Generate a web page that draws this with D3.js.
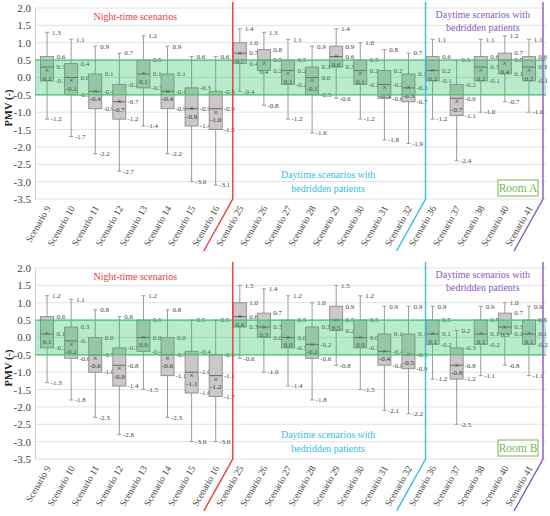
<!DOCTYPE html>
<html lang="en">
<head>
    <meta charset="UTF-8">
    <title>PMV box plots</title>
    <script src="https://cdn.jsdelivr.net/npm/d3@7"></script>
    <style>
        body { margin: 0; background: #fff; }
        svg text { font-family: "Liberation Serif", "DejaVu Serif", serif; }
    </style>
</head>
<body>
<div class="chart"></div>

<script type="text/javascript">
    var categories = ['9', '10', '11', '12', '13', '14', '15', '16',
        '25', '26', '27', '28', '29', '30', '31', '32',
        '36', '37', '38', '40', '41'];
    var yTicks = [2.0, 1.5, 1.0, 0.5, 0.0, -0.5, -1.0, -1.5, -2.0, -2.5, -3.0, -3.5];

    // Room A
    var roomA_max    = [1.3, 1.1, 0.9, 0.7, 1.2, 0.9, 0.6, 0.6, 1.4, 1.3, 1.1, 0.9, 1.4, 1.0, 0.8, 0.7, 1.1, 0.5, 1.1, 1.2, 1.1];
    var roomA_q3     = [0.6, 0.4, 0.1, -0.2, 0.5, 0.1, -0.3, -0.4, 1.0, 0.8, 0.5, 0.3, 0.9, 0.5, 0.2, 0.1, 0.6, -0.2, 0.6, 0.7, 0.6];
    var roomA_median = [0.3, 0.0, -0.4, -0.7, 0.1, -0.4, -0.9, -0.9, 0.7, 0.5, 0.2, 0.0, 0.6, 0.2, -0.2, -0.3, 0.2, -0.6, 0.3, 0.5, 0.3];
    var roomA_q1     = [-0.1, -0.5, -0.9, -1.2, -0.3, -0.9, -1.4, -1.5, 0.4, 0.2, -0.2, -0.5, 0.3, -0.2, -0.6, -0.7, -0.1, -1.1, -0.1, 0.1, -0.1];
    var roomA_min    = [-1.2, -1.7, -2.2, -2.7, -1.4, -2.2, -3.0, -3.1, -0.4, -0.8, -1.2, -1.6, -0.6, -1.2, -1.8, -1.9, -1.2, -2.4, -1.0, -0.7, -1.0];
    var roomA_mean   = [0.2, -0.1, -0.4, -0.7, 0.1, -0.4, -0.9, -1.0, 0.7, 0.4, 0.1, -0.1, 0.6, 0.1, -0.3, -0.3, 0.2, -0.7, 0.2, 0.4, 0.2];

    // Room B
    var roomB_max    = [1.2, 1.1, 0.8, 0.6, 1.2, 0.8, 0.5, 0.5, 1.5, 1.4, 1.2, 1.0, 1.5, 1.2, 0.9, 0.9, 0.9, 0.2, 0.9, 1.0, 0.9];
    var roomB_q3     = [0.6, 0.3, 0.0, -0.3, 0.5, 0.0, -0.4, -0.5, 1.0, 0.7, 0.5, 0.3, 0.9, 0.5, 0.1, 0.1, 0.5, -0.3, 0.5, 0.7, 0.5];
    var roomB_median = [0.1, -0.1, -0.5, -0.8, 0.0, -0.5, -1.0, -1.1, 0.6, 0.3, 0.0, -0.2, 0.5, 0.0, -0.4, -0.5, 0.1, -0.8, 0.1, 0.3, 0.1];
    var roomB_q1     = [-0.3, -0.6, -1.0, -1.4, -0.4, -1.1, -1.6, -1.7, 0.3, 0.0, -0.3, -0.6, 0.2, -0.3, -0.8, -0.9, -0.2, -1.2, -0.2, 0.1, -0.2];
    var roomB_min    = [-1.3, -1.8, -2.3, -2.8, -1.5, -2.3, -3.0, -3.0, -0.6, -1.0, -1.4, -1.8, -0.8, -1.5, -2.1, -2.2, -1.2, -2.5, -1.1, -0.8, -1.1];
    var roomB_mean   = [0.1, -0.2, -0.6, -0.9, 0.0, -0.6, -1.1, -1.2, 0.6, 0.3, 0.0, -0.2, 0.5, 0.0, -0.4, -0.5, 0.1, -0.8, 0.1, 0.3, 0.1];

    var w = 550;
    var h = 516;
    var serif = '"Liberation Serif", "DejaVu Serif", serif';
    var red = '#ee3b3f', cyan = '#35bde6', purple = '#8a58c0', green = '#79b450';

    var svg = d3.select('.chart').append('svg')
            .attr('width', w)
            .attr('height', h)
            .attr('font-family', serif);

    var x = d3.scaleBand().domain(categories).range([35, 541]);
    var y = d3.scaleLinear().domain([-3.5, 2.0]).range([199, 8]);
    var boxW = x.bandwidth() * 0.54;

    function fmt(v) { return v.toFixed(1); }

    function drawPanel(offsetY, room, mx, q3, med, q1, mn, mean) {
        var g = svg.append('g').attr('transform', 'translate(0,' + offsetY + ')');
        var rows = categories.map(function(c, i) {
            return {cat: c, max: mx[i], q3: q3[i], med: med[i], q1: q1[i], min: mn[i], mean: mean[i]};
        });

        // gridlines
        g.selectAll('line.grid').data(yTicks).enter().append('line')
                .attr('x1', 35).attr('x2', 546)
                .attr('y1', function(d) { return y(d); })
                .attr('y2', function(d) { return y(d); })
                .attr('stroke', '#e2e2e2').attr('stroke-width', 1);

        // y axis
        var yAxis = g.append('g').attr('transform', 'translate(35,0)')
                .call(d3.axisLeft(y).tickValues(yTicks).tickSize(0).tickPadding(4).tickFormat(fmt))
                .attr('font-family', serif).attr('font-size', 11);
        yAxis.select('.domain').attr('stroke', '#d0d0d0');
        yAxis.selectAll('text').attr('fill', '#444');

        g.append('text')
                .attr('transform', 'translate(12,' + 108 + ') rotate(-90)')
                .attr('text-anchor', 'middle')
                .attr('font-size', 10.5).attr('font-weight', 'bold').attr('fill', '#222')
                .text('PMV (-)');

        // x labels
        var xAxis = g.append('g').attr('transform', 'translate(0,' + y(-3.5) + ')')
                .call(d3.axisBottom(x).tickSize(0).tickFormat(function(d) { return 'Scenario ' + d; }))
                .attr('font-family', serif).attr('font-size', 9.5);
        xAxis.select('.domain').remove();
        xAxis.selectAll('text')
                .attr('y', 0).attr('dy', 0)
                .attr('transform', 'translate(4,9) rotate(-60)')
                .style('text-anchor', 'end')
                .attr('fill', '#444');

        var boxes = g.selectAll('g.box').data(rows).enter().append('g')
                .attr('transform', function(d) { return 'translate(' + (x(d.cat) + x.bandwidth() / 2) + ',0)'; });

        // whiskers
        boxes.append('line')
                .attr('x1', 0).attr('x2', 0)
                .attr('y1', function(d) { return y(d.max); })
                .attr('y2', function(d) { return y(d.min); })
                .attr('stroke', '#9a9a9a').attr('stroke-width', 1);
        boxes.append('line')
                .attr('x1', -2).attr('x2', 2)
                .attr('y1', function(d) { return y(d.max); })
                .attr('y2', function(d) { return y(d.max); })
                .attr('stroke', '#9a9a9a');
        boxes.append('line')
                .attr('x1', -2).attr('x2', 2)
                .attr('y1', function(d) { return y(d.min); })
                .attr('y2', function(d) { return y(d.min); })
                .attr('stroke', '#9a9a9a');

        // box
        boxes.append('rect')
                .attr('x', -boxW / 2)
                .attr('width', boxW)
                .attr('y', function(d) { return y(d.q3); })
                .attr('height', function(d) { return y(d.q1) - y(d.q3); })
                .attr('fill', '#cdc8c8')
                .attr('stroke', '#8a8a8a').attr('stroke-width', 0.9);
        boxes.append('line')
                .attr('x1', -boxW / 2).attr('x2', boxW / 2)
                .attr('y1', function(d) { return y(d.med); })
                .attr('y2', function(d) { return y(d.med); })
                .attr('stroke', '#666').attr('stroke-width', 1);

        // comfort band
        g.append('rect')
                .attr('x', 35).attr('width', 511)
                .attr('y', y(0.5)).attr('height', y(-0.5) - y(0.5))
                .attr('fill', 'rgb(40,190,100)').attr('fill-opacity', 0.33);
        g.selectAll('line.band').data([0.5, -0.5]).enter().append('line')
                .attr('x1', 35).attr('x2', 546)
                .attr('y1', function(d) { return y(d); })
                .attr('y2', function(d) { return y(d); })
                .attr('stroke', '#48c06a').attr('stroke-width', 1.2);

        // mean marker
        boxes.append('text')
                .attr('y', function(d) { return y(d.mean) + 2.5; })
                .attr('text-anchor', 'middle')
                .attr('font-size', 8).attr('fill', '#333')
                .text('×');
        boxes.append('text')
                .attr('y', function(d) { return y(d.mean) + 10; })
                .attr('text-anchor', 'middle')
                .attr('font-size', 7).attr('fill', '#333')
                .text(function(d) { return fmt(d.mean); });

        // value labels
        var labelKeys = [['max', 3.5], ['q3', boxW / 2 + 1.5], ['med', boxW / 2 + 1.5], ['q1', boxW / 2 + 1.5], ['min', 3.5]];
        labelKeys.forEach(function(k) {
            boxes.append('text')
                    .attr('x', k[1])
                    .attr('y', function(d) { return y(d[k[0]]) + 2.3; })
                    .attr('font-size', 7).attr('fill', '#444')
                    .text(function(d) { return (d[k[0]] < 0 ? '-' : '\u2009') + fmt(Math.abs(d[k[0]])); });
        });

        // group separators
        var sep = [[x('25') + 5, red], [x('36') + 5, cyan], [x.range()[1] + 2, purple]];
        sep.forEach(function(s) {
            g.append('path')
                    .attr('d', 'M' + s[0] + ',' + (y(2.0) - 6) + 'L' + s[0] + ',' + y(-3.5) +
                            'L' + (s[0] - 29) + ',' + (y(-3.5) + 52))
                    .attr('fill', 'none').attr('stroke', s[1]).attr('stroke-width', 1.4);
        });

        // annotations
        var nightMid = (x('9') + x('25')) / 2 + 4;
        var dayMid = (x('25') + x('36')) / 2 + 4;
        var bedMid = (x('36') + x.range()[1]) / 2 + 2;
        g.append('text').attr('x', nightMid).attr('y', 19.5).attr('text-anchor', 'middle')
                .attr('font-size', 10).attr('fill', red).text('Night-time scenarios');
        g.append('text').attr('x', dayMid).attr('y', 178).attr('text-anchor', 'middle')
                .attr('font-size', 10).attr('fill', cyan).text('Daytime scenarios with');
        g.append('text').attr('x', dayMid).attr('y', 192).attr('text-anchor', 'middle')
                .attr('font-size', 10).attr('fill', cyan).text('bedridden patients');
        g.append('text').attr('x', bedMid).attr('y', 18).attr('text-anchor', 'middle')
                .attr('font-size', 10).attr('fill', purple).text('Daytime scenarios with');
        g.append('text').attr('x', bedMid).attr('y', 31).attr('text-anchor', 'middle')
                .attr('font-size', 10).attr('fill', purple).text('bedridden patients');

        // room tag
        g.append('rect').attr('x', 498).attr('y', 180).attr('width', 40).attr('height', 16)
                .attr('fill', '#fff').attr('stroke', green).attr('stroke-width', 1);
        g.append('text').attr('x', 518).attr('y', 192).attr('text-anchor', 'middle')
                .attr('font-size', 11.5).attr('fill', green).text(room);
    }

    drawPanel(0, 'Room A', roomA_max, roomA_q3, roomA_median, roomA_q1, roomA_min, roomA_mean);
    drawPanel(260, 'Room B', roomB_max, roomB_q3, roomB_median, roomB_q1, roomB_min, roomB_mean);
</script>
</body>
</html>
